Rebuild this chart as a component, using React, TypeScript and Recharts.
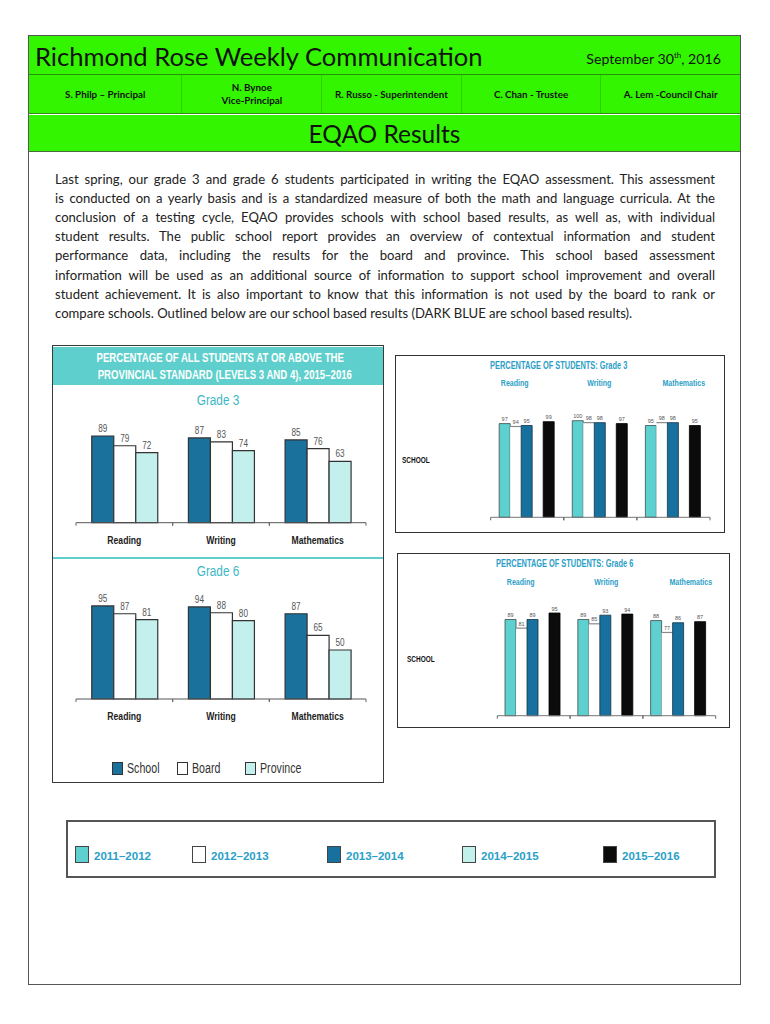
import React from "react";
import { BarChart, Bar, XAxis, YAxis, LabelList } from "recharts";

// subjects shared by every chart
const subjects = ["Reading", "Writing", "Mathematics"];

// levels 3 and 4, 2015-2016
const grade3School = [89, 87, 85];
const grade3Board = [79, 83, 76];
const grade3Province = [72, 74, 63];
const grade6School = [95, 94, 87];
const grade6Board = [87, 88, 65];
const grade6Province = [81, 80, 50];

// school trend by year (null = NP)
const years = ["2011–2012", "2012–2013", "2013–2014", "2014–2015", "2015–2016"];
const grade3Y2011 = [97, 100, 95];
const grade3Y2012 = [94, 98, 98];
const grade3Y2013 = [95, 98, 98];
const grade3Y2014 = [null, null, null];
const grade3Y2015 = [99, 97, 95];
const grade6Y2011 = [89, 89, 88];
const grade6Y2012 = [81, 85, 77];
const grade6Y2013 = [89, 93, 86];
const grade6Y2014 = [null, null, null];
const grade6Y2015 = [95, 94, 87];

const paragraph = [
  "Last spring, our grade 3 and grade 6 students participated in writing the EQAO assessment. This assessment",
  "is conducted on a yearly basis and is a standardized measure of both the math and language curricula. At the",
  "conclusion of a testing cycle, EQAO provides schools with school based results, as well as, with individual",
  "student results. The public school report provides an overview of contextual information and student",
  "performance data, including the results for the board and province. This school based assessment",
  "information will be used as an additional source of information to support school improvement and overall",
  "student achievement. It is also important to know that this information is not used by the board to rank or",
  "compare schools. Outlined below are our school based results (DARK BLUE are school based results).",
];

const staff = [
  ["S. Philp – Principal"],
  ["N. Bynoe", "Vice-Principal"],
  ["R. Russo - Superintendent"],
  ["C. Chan - Trustee"],
  ["A. Lem -Council Chair"],
];

const ARIAL = "'Liberation Sans', Arial, sans-serif";
const BODY = "Lato, 'Open Sans', sans-serif";
const GREEN = "#33f500";
const TEAL = "#5ecfcc";

const cmpSeries = [
  { key: "school", name: "School", fill: "#19719c" },
  { key: "board", name: "Board", fill: "#ffffff" },
  { key: "province", name: "Province", fill: "#c3f0ec" },
];

const trendSeries = [
  { key: "y2011", fill: "#5dd0cf", stroke: "#3e4b4b" },
  { key: "y2012", fill: "#ffffff", stroke: "#8a8a8a" },
  { key: "y2013", fill: "#17709e", stroke: "#123245" },
  { key: "y2014", fill: "#c2f1ec", stroke: "#666" },
  { key: "y2015", fill: "#0b0b0b", stroke: "#000" },
];

const cmpRows = (a: number[], b: number[], c: number[]) =>
  subjects.map((s, i) => ({ subject: s, school: a[i], board: b[i], province: c[i] }));

const trendRows = (cols: (number | null)[][]) =>
  subjects.map((s, i) => {
    const row: any = { subject: s };
    trendSeries.forEach((t, k) => {
      row[t.key] = cols[k][i] ?? 0;
      row[t.key + "NP"] = cols[k][i] == null;
    });
    return row;
  });

const g3Cmp = cmpRows(grade3School, grade3Board, grade3Province);
const g6Cmp = cmpRows(grade6School, grade6Board, grade6Province);
const g3Trend = trendRows([grade3Y2011, grade3Y2012, grade3Y2013, grade3Y2014, grade3Y2015]);
const g6Trend = trendRows([grade6Y2011, grade6Y2012, grade6Y2013, grade6Y2014, grade6Y2015]);

// squeeze Arial into an Arial Narrow look
const Narrow = ({ k = 0.78, origin = "center", children }: any) => (
  <span style={{ display: "inline-block", whiteSpace: "nowrap", transform: `scaleX(${k})`, transformOrigin: origin }}>
    {children}
  </span>
);

// tick marks sit on the band edges, label in the middle
const BandTick = (props: any) => {
  const { x, y, payload, showLabel, labelDy, tickLen } = props;
  const half = payload?.offset ?? 0;
  return (
    <g>
      <line x1={x - half} x2={x - half} y1={y} y2={y + tickLen} stroke="#666" />
      <line x1={x + half} x2={x + half} y1={y} y2={y + tickLen} stroke="#666" />
      {showLabel && (
        <text
          transform={`translate(${x} ${y + labelDy}) scale(0.82 1)`}
          textAnchor="middle"
          fontSize={10.5}
          fontWeight="bold"
          fill="#222"
          fontFamily={ARIAL}
        >
          {payload.value}
        </text>
      )}
    </g>
  );
};

const cmpLabel = (p: any) => {
  const vb = p.viewBox || p;
  const x = (vb.x ?? p.x) + (vb.width ?? p.width) / 2;
  const y = (vb.y ?? p.y) - 4;
  return (
    <text transform={`translate(${x} ${y}) scale(0.82 1)`} textAnchor="middle" fontSize={10} fill="#555" fontFamily={ARIAL}>
      {p.value}
    </text>
  );
};

const trendLabel = (rows: any[], npKey: string) => (p: any) => {
  const vb = p.viewBox || p;
  const x = vb.x ?? p.x;
  const y = vb.y ?? p.y;
  const w = vb.width ?? p.width;
  const np = rows[p.index]?.[npKey];
  return (
    <text x={x + w / 2} y={y - 2.5} textAnchor="middle" fontSize={5.5} fill="#555" fontFamily={ARIAL}>
      {np ? "NP" : p.value}
    </text>
  );
};

const TopLineBar = (p: any) =>
  p.height > 0 ? (
    <g>
      <rect x={p.x} y={p.y} width={p.width} height={p.height} fill="#fff" />
      <line x1={p.x} x2={p.x + p.width} y1={p.y} y2={p.y} stroke="#8a8a8a" strokeWidth={1.2} />
    </g>
  ) : (
    <g />
  );

const CompareChart = ({ rows, width, height, margin, axisHeight }: any) => (
  <BarChart width={width} height={height} data={rows} margin={margin} barCategoryGap="16.3%" barGap={0}>
    <YAxis hide domain={[0, 100]} />
    <XAxis
      dataKey="subject"
      height={axisHeight}
      axisLine={{ stroke: "#555" }}
      tickLine={false}
      tickSize={0}
      tickMargin={0}
      interval={0}
      tick={<BandTick showLabel labelDy={21} tickLen={3} />}
    />
    {cmpSeries.map((s) => (
      <Bar key={s.key} dataKey={s.key} fill={s.fill} stroke="#333" strokeWidth={1.2} isAnimationActive={false}>
        <LabelList dataKey={s.key} content={cmpLabel} />
      </Bar>
    ))}
  </BarChart>
);

const TrendChart = ({ rows, width, height, margin, axisHeight, gap }: any) => (
  <BarChart width={width} height={height} data={rows} margin={margin} barCategoryGap={gap} barGap={0}>
    <YAxis hide domain={[0, 100]} />
    <XAxis
      dataKey="subject"
      height={axisHeight}
      axisLine={{ stroke: "#777" }}
      tickLine={false}
      tickSize={0}
      tickMargin={0}
      interval={0}
      tick={<BandTick tickLen={3} />}
    />
    {trendSeries.map((s) => (
      <Bar
        key={s.key}
        dataKey={s.key}
        fill={s.fill}
        stroke={s.stroke}
        strokeWidth={0.8}
        shape={s.key === "y2012" ? TopLineBar : undefined}
        isAnimationActive={false}
      >
        <LabelList dataKey={s.key} content={trendLabel(rows, s.key + "NP")} />
      </Bar>
    ))}
  </BarChart>
);

const abs = (l: number, t: number, w: number, h: number): React.CSSProperties => ({
  position: "absolute",
  left: l,
  top: t,
  width: w,
  height: h,
  boxSizing: "border-box",
});

const TrendBox = ({ top, left, width, height, grade, titleX, labelY, schoolX, schoolY, subjectX, children }: any) => (
  <>
    <div style={{ ...abs(left, top, width, height), border: "1.5px solid #333", background: "#fff" }} />
    <div
      style={{
        ...abs(titleX - 100, top + 5, 200, 14),
        textAlign: "center",
        fontFamily: ARIAL,
        fontWeight: "bold",
        fontSize: 10,
        color: "#2aa0c8",
      }}
    >
      <Narrow k={0.74}>PERCENTAGE OF STUDENTS: Grade {grade}</Narrow>
    </div>
    {subjects.map((s, i) => (
      <div
        key={s}
        style={{
          ...abs(subjectX[i] - 40, labelY - 7, 80, 14),
          textAlign: "center",
          fontFamily: ARIAL,
          fontWeight: "bold",
          fontSize: 9.5,
          color: "#2aa0c8",
        }}
      >
        <Narrow k={0.74}>{s}</Narrow>
      </div>
    ))}
    <div style={{ ...abs(schoolX, schoolY - 6, 40, 12), fontFamily: ARIAL, fontWeight: "bold", fontSize: 9, color: "#111" }}>
      <Narrow k={0.72} origin="left">SCHOOL</Narrow>
    </div>
    {children}
  </>
);

const legendX = [75, 192, 327, 462, 603];
const cmpLegendX = [112, 177, 245];

export default function App() {
  return (
    <div style={{ ...abs(0, 0, 770, 1024), background: "#fff", fontFamily: BODY }}>
      {/* page frame */}
      <div style={{ ...abs(28, 35, 713, 950), border: "1.5px solid #555" }} />

      {/* masthead */}
      <div style={{ ...abs(29, 36, 711, 39), background: GREEN, borderBottom: "1.5px solid #2b8f10" }} />
      <div style={{ ...abs(35, 39, 460, 34), fontSize: 25.6, lineHeight: "34px", color: "#111" }}>
        Richmond Rose Weekly Communication
      </div>
      <div style={{ ...abs(540, 45, 181, 20), fontSize: 14.2, lineHeight: "20px", textAlign: "right", color: "#111" }}>
        September 30<sup style={{ fontSize: 8 }}>th</sup>, 2016
      </div>
      <div style={{ ...abs(29, 75, 711, 39), background: GREEN, borderBottom: "1.5px solid #2b8f10", display: "flex" }}>
        {staff.map((lines, i) => (
          <div
            key={i}
            style={{
              flex: i === 0 ? 1.1 : 1,
              display: "flex",
              flexDirection: "column",
              justifyContent: "center",
              alignItems: "center",
              fontSize: 9.8,
              fontWeight: "bold",
              lineHeight: "13px",
              color: "#111",
              borderLeft: i ? "1px solid #2fd000" : "none",
            }}
          >
            {lines.map((l) => (
              <div key={l}>{l}</div>
            ))}
          </div>
        ))}
      </div>
      <div style={{ ...abs(29, 115, 711, 37), background: GREEN, borderBottom: "1.5px solid #4a6a40" }} />
      <div style={{ ...abs(29, 117, 711, 34), textAlign: "center", fontSize: 24.5, lineHeight: "34px", color: "#111" }}>
        EQAO Results
      </div>

      {/* intro text */}
      {paragraph.map((line, i) => (
        <div
          key={i}
          style={{
            ...abs(55, 169.5 + i * 19.2, 660, 19.2),
            fontSize: 13.1,
            lineHeight: "19.2px",
            color: "#222",
            textAlign: "justify",
            textAlignLast: i < paragraph.length - 1 ? "justify" : "left",
          }}
        >
          {line}
        </div>
      ))}

      {/* provincial standard box */}
      <div style={{ ...abs(52, 345, 332, 438), border: "1.5px solid #3a3a3a", background: "#fff" }} />
      <div
        style={{
          ...abs(53, 347, 330, 38),
          background: TEAL,
          color: "#fff",
          fontFamily: ARIAL,
          fontWeight: "bold",
          fontSize: 13,
          lineHeight: "16.5px",
          textAlign: "center",
          paddingTop: 3,
        }}
      >
        <Narrow k={0.74}>PERCENTAGE OF ALL STUDENTS AT OR ABOVE THE</Narrow>
        <br />
        <Narrow k={0.74}>PROVINCIAL STANDARD (LEVELS 3 AND 4), 2015–2016</Narrow>
      </div>
      <div style={{ ...abs(52, 391, 332, 20), textAlign: "center", fontFamily: ARIAL, fontSize: 15.5, color: "#3cb7c6" }}>
        <Narrow k={0.76}>Grade 3</Narrow>
      </div>
      <div style={{ ...abs(52, 390, 332, 165) }}>
        <CompareChart rows={g3Cmp} width={332} height={165} margin={{ top: 35.3, right: 18, bottom: 0, left: 24 }} axisHeight={32.3} />
      </div>
      <div style={{ ...abs(53, 557, 330, 2), background: TEAL }} />
      <div style={{ ...abs(52, 562, 332, 20), textAlign: "center", fontFamily: ARIAL, fontSize: 15.5, color: "#3cb7c6" }}>
        <Narrow k={0.76}>Grade 6</Narrow>
      </div>
      <div style={{ ...abs(52, 590, 332, 140) }}>
        <CompareChart rows={g6Cmp} width={332} height={140} margin={{ top: 11, right: 18, bottom: 0, left: 24 }} axisHeight={31} />
      </div>
      {cmpSeries.map((s, i) => (
        <div key={s.key} style={{ ...abs(cmpLegendX[i], 760, 90, 16), display: "flex", alignItems: "center" }}>
          <div style={{ width: 11, height: 13, background: s.fill, border: "1.5px solid #333", boxSizing: "border-box" }} />
          <span style={{ marginLeft: 4, fontFamily: ARIAL, fontSize: 14, color: "#333" }}>
            <Narrow k={0.76} origin="left">{s.name}</Narrow>
          </span>
        </div>
      ))}

      {/* school trend boxes */}
      <TrendBox top={355} left={395} width={330} height={178} grade={3} titleX={559} labelY={384} schoolX={402} schoolY={461} subjectX={[515, 599, 684]}>
        <div style={{ ...abs(395, 395, 330, 135) }}>
          <TrendChart rows={g3Trend} width={330} height={135} margin={{ top: 25.7, right: 15, bottom: 0, left: 95.7 }} axisHeight={12.7} gap="11.6%" />
        </div>
      </TrendBox>
      <TrendBox top={553} left={397} width={333} height={175} grade={6} titleX={565} labelY={583} schoolX={407} schoolY={660} subjectX={[521, 606, 691]}>
        <div style={{ ...abs(397, 590, 333, 135) }}>
          <TrendChart rows={g6Trend} width={333} height={135} margin={{ top: 17.6, right: 14.3, bottom: 0, left: 100.3 }} axisHeight={9.3} gap="10.6%" />
        </div>
      </TrendBox>

      {/* year legend */}
      <div style={{ ...abs(66, 820, 650, 58), border: "2px solid #555" }} />
      {trendSeries.map((s, i) => (
        <div key={s.key} style={{ ...abs(legendX[i], 845, 120, 18), display: "flex", alignItems: "center" }}>
          <div style={{ width: 14, height: 17, background: s.fill, border: "1.5px solid #444", boxSizing: "border-box" }} />
          <span style={{ marginLeft: 5, marginTop: 4, fontFamily: ARIAL, fontWeight: "bold", fontSize: 11.5, color: "#2aa0c8" }}>
            {years[i]}
          </span>
        </div>
      ))}
    </div>
  );
}
